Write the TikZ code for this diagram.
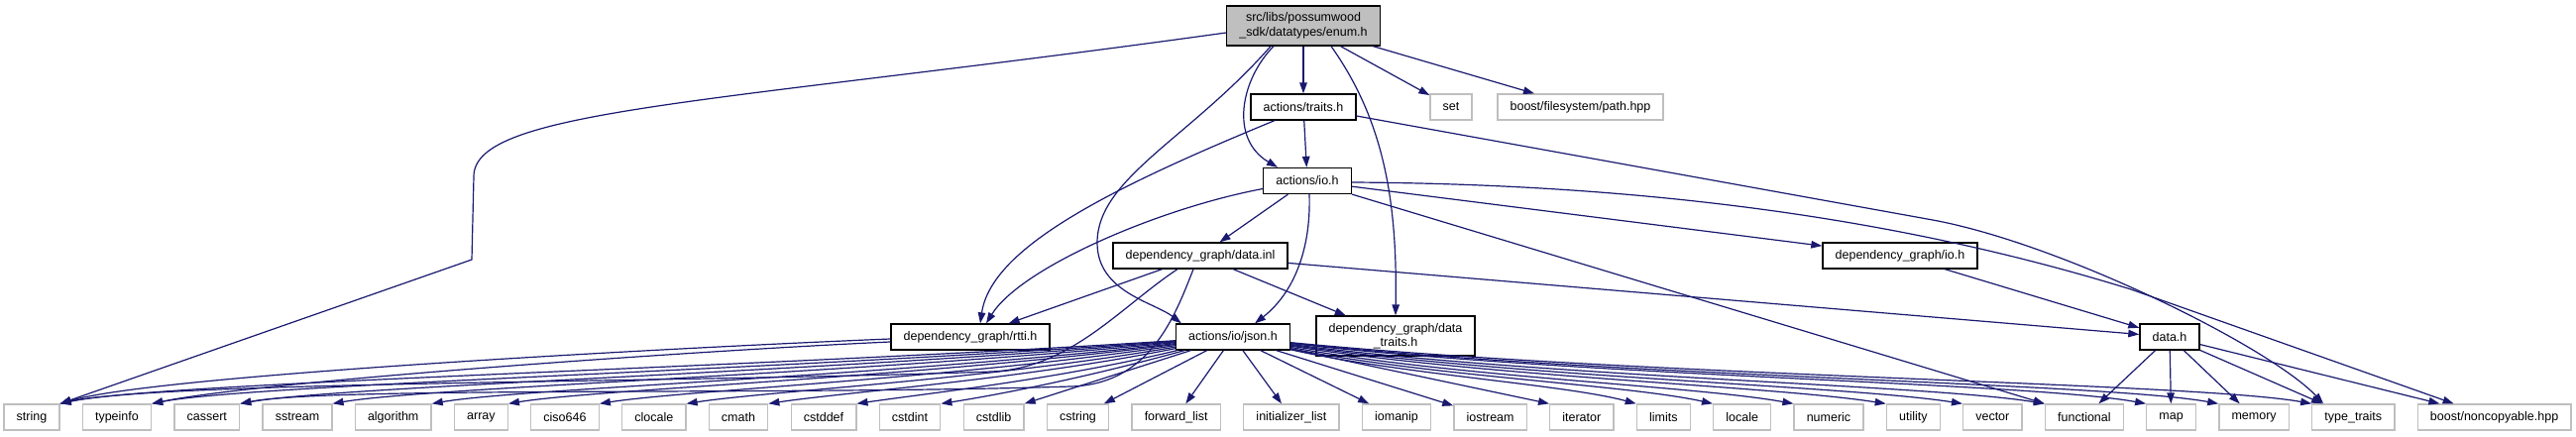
\documentclass[tikz,border=0pt]{standalone}
\usepackage{fontspec}
\setmainfont{Liberation Sans}
\usetikzlibrary{arrows.meta}
\definecolor{edgecol}{HTML}{191970}
\definecolor{extcol}{HTML}{BFBFBF}
\definecolor{maincol}{HTML}{BFBFBF}
\begin{document}
\begin{tikzpicture}[x=1pt,y=-1pt,
  box/.style={rectangle, inner xsep=12.7pt, inner ysep=0pt, minimum height=26pt, align=center,
    font=\fontsize{12.5}{14.5}\selectfont, fill=white},
  inc/.style={box, draw=black, line width=1.3pt},
  ext/.style={box, draw=extcol, line width=1.3pt},
  mainf/.style={box, draw=black, line width=1.3pt, fill=maincol, minimum height=40pt},
  dep/.style={draw=edgecol, line width=1.2pt, -{Triangle[length=11pt,width=7.5pt]}}]
\fill[white] (0,0) rectangle (2599,440);
\useasboundingbox (0,0) rectangle (2599,440);

% upper nodes
\node[mainf] (enum) at (1315,26) {src/libs/possumwood\\\_sdk/datatypes/enum.h};
\node[inc] (traits) at (1315,108) {actions/traits.h};
\node[ext] (set) at (1464,108) {set};
\node[ext] (pathhpp) at (1594.5,108) {boost/filesystem/path.hpp};
\node[inc] (io) at (1319,182.5) {actions/io.h};
\node[inc] (datainl) at (1211,258) {dependency\_graph/data.inl};
\node[inc] (dgio) at (1917,258) {dependency\_graph/io.h};
\node[inc] (rtti) at (979,340) {dependency\_graph/rtti.h};
\node[inc] (json) at (1244,340) {actions/io/json.h};
\node[inc, minimum height=40pt] (dtraits) at (1408,339) {dependency\_graph/data\\\_traits.h};
\node[inc] (datah) at (2189,340) {data.h};

% bottom row
\node[ext] (string) at (32,421) {string};
\node[ext] (typeinfo) at (117.95,421) {typeinfo};
\node[ext] (cassert) at (208.8,421) {cassert};
\node[ext] (sstream) at (300,421) {sstream};
\node[ext] (algorithm) at (396.7,421) {algorithm};
\node[ext] (array) at (485.4,421) {array};
\node[ext] (ciso) at (570,421) {ciso646};
\node[ext] (clocale) at (659.8,421) {clocale};
\node[ext] (cmath) at (745,421) {cmath};
\node[ext] (cstddef) at (831,421) {cstddef};
\node[ext] (cstdint) at (918,421) {cstdint};
\node[ext] (cstdlib) at (1002.6,421) {cstdlib};
\node[ext] (cstring) at (1087.5,421) {cstring};
\node[ext] (fwdlist) at (1186.7,421) {forward\_list};
\node[ext] (initlist) at (1302.9,421) {initializer\_list};
\node[ext] (iomanip) at (1409,421) {iomanip};
\node[ext] (iostream) at (1503.6,421) {iostream};
\node[ext] (iterator) at (1595.8,421) {iterator};
\node[ext] (limits) at (1678.3,421) {limits};
\node[ext] (locale) at (1757.7,421) {locale};
\node[ext] (numeric) at (1845,421) {numeric};
\node[ext] (utility) at (1930.3,421) {utility};
\node[ext] (vector) at (2010.3,421) {vector};
\node[ext] (functional) at (2102.9,421) {functional};
\node[ext] (map) at (2190.6,421) {map};
\node[ext] (memory) at (2274.1,421) {memory};
\node[ext] (typetraits) at (2374.3,421) {type\_traits};
\node[ext] (noncopyable) at (2516.6,421) {boost/noncopyable.hpp};

% edges from enum.h
\draw[dep] ([yshift=-7pt]enum.west) .. controls (720,105) and (478,110) .. (478,178) -- (476,262) -- (string.north east);
\draw[dep] (enum) -- (traits);
\draw[dep] ([xshift=-30pt]enum.south) .. controls (1252,80) and (1240,140) .. ([xshift=-30pt]io.north);
\draw[dep] ([xshift=-33pt]enum.south) .. controls (1200,140) and (1107,180) .. (1107,245) .. controls (1107,295) and (1165,305) .. ([xshift=6pt]json.north west);
\draw[dep] ([xshift=28pt]enum.south) .. controls (1395,120) and (1410,200) .. (dtraits.north);
\draw[dep] (enum) -- (set);
\draw[dep] (enum) -- (pathhpp);

% edges from actions/traits.h
\draw[dep] (traits) -- (io);
\draw[dep] ([xshift=-29pt]traits.south) .. controls (1120,190) and (1000,250) .. ([xshift=10pt]rtti.north);
\draw[dep] ([yshift=-9pt]traits.east) -- (1950,222) .. controls (2080,246) and (2290,350) .. ([xshift=12pt]typetraits.north west);

% edges from actions/io.h
\draw[dep] ([yshift=-8pt]io.west) .. controls (1170,210) and (1030,270) .. ([xshift=16pt]rtti.north);
\draw[dep] (io) -- (datainl);
\draw[dep] ([xshift=2pt]io.south) .. controls (1323,260) and (1300,300) .. ([xshift=22pt]json.north);
\draw[dep] (io) -- (dgio);
\draw[dep] (io) -- (functional.north west);
\draw[dep] ([yshift=-1.5pt]io.east) .. controls (1700,186) and (1950,230) .. (2150,292) -- ([xshift=37pt]noncopyable.north west);

% edges from dependency_graph/data.inl
\draw[dep] (datainl) -- (rtti);
\draw[dep] (datainl) -- (dtraits);
\draw[dep] (datainl) -- (datah);
\draw[dep] ([xshift=-23pt]datainl.south) .. controls (1130,310) and (1080,372) .. (1000,375) .. controls (700,386) and (160,385) .. (string.north east);
\draw[dep] ([xshift=-7pt]datainl.south) .. controls (1185,320) and (1160,388) .. (1080,390) .. controls (800,399) and (330,390) .. (cassert.north east);

% edges from dependency_graph/io.h and data.h
\draw[dep] (dgio) -- (datah);
\draw[dep] (datah) -- (functional);
\draw[dep] (datah) -- (map);
\draw[dep] (datah) -- (memory);
\draw[dep] (datah) -- (typetraits);
\draw[dep] (datah) -- (noncopyable);

% edges from dependency_graph/rtti.h
\draw[dep] ([yshift=-2pt]rtti.west) .. controls (700,350) and (160,378) .. (string.north east);
\draw[dep] ([yshift=-5pt]rtti.west) .. controls (700,354) and (260,385) .. (typeinfo.north east);

% edges from actions/io/json.h
\draw[dep] (json) .. controls (744,372) and (160,386) .. (string.north east);
\draw[dep] (json) .. controls (781,374) and (252,388) .. (typeinfo.north east);
\draw[dep] (json) .. controls (817,376) and (340,390) .. (cassert.north east);
\draw[dep] (json) .. controls (854,378) and (430,391) .. (sstream.north east);
\draw[dep] (json) .. controls (894,380) and (525,392) .. (algorithm.north east);
\draw[dep] (json) .. controls (925,381) and (600,393) .. (array.north east);
\draw[dep] (json) .. controls (962,382) and (690,394) .. (ciso.north east);
\draw[dep] (json) .. controls (997,383) and (772,395) .. (clocale.north east);
\draw[dep] (json) .. controls (1030,383) and (850,396) .. (cmath.north east);
\draw[dep] (json) .. controls (1066,383) and (935,397) .. (cstddef.north east);
\draw[dep] (json) .. controls (1100,380) and (1010,398) .. (cstdint.north east);
\draw[dep] (json) -- (cstdlib.north east);
\draw[dep] (json) -- (cstring);
\draw[dep] (json) -- (fwdlist);
\draw[dep] (json) -- (initlist);
\draw[dep] (json) -- (iomanip);
\draw[dep] (json) -- (iostream);
\draw[dep] (json) -- (iterator.north west);
\draw[dep] (json) .. controls (1416,378) and (1579,388) .. (limits.north west);
\draw[dep] (json) .. controls (1443,380) and (1641,388) .. (locale.north west);
\draw[dep] (json) .. controls (1472,381) and (1706,389) .. (numeric.north west);
\draw[dep] (json) .. controls (1505,381) and (1783,389) .. (utility.north west);
\draw[dep] (json) .. controls (1532,381) and (1862,389) .. (vector.north west);
\draw[dep] (json) .. controls (1561,381) and (1944,388) .. (functional.north west);
\draw[dep] (json) .. controls (1597,380) and (2046,386) .. (map.north west);
\draw[dep] (json) .. controls (1622,380) and (2119,386) .. (memory.north west);
\draw[dep] (json) .. controls (1655,380) and (2213,386) .. (typetraits.north west);
\end{tikzpicture}
\end{document}
